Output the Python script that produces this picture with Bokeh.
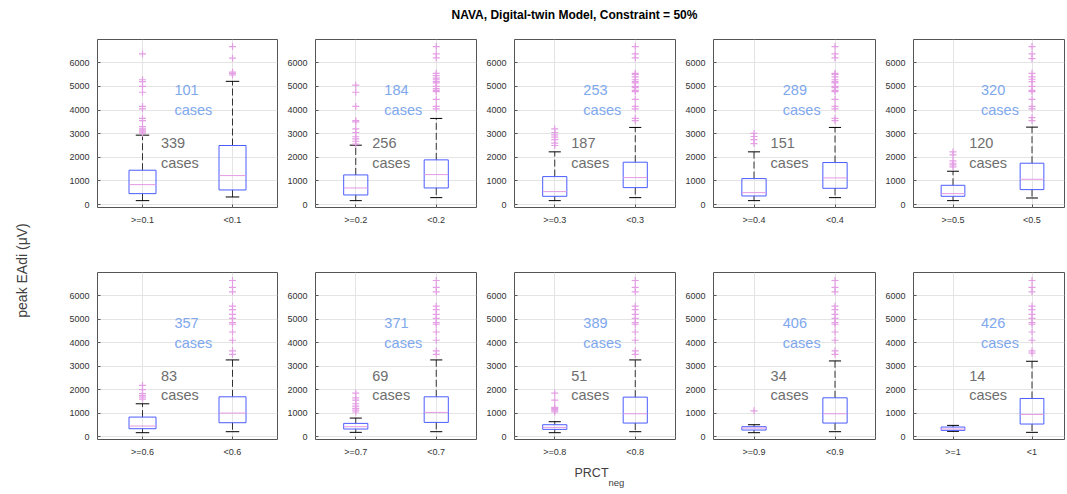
import math
from bokeh.plotting import figure
from bokeh.layouts import row, column
from bokeh.models import Range1d, FixedTicker
from bokeh.core.properties import value
from bokeh.embed import file_html
from bokeh.resources import INLINE

# ---------------- data ----------------
thresholds = ["0.1", "0.2", "0.3", "0.4", "0.5", "0.6", "0.7", "0.8", "0.9", "1"]
n_ge = [339, 256, 187, 151, 120, 83, 69, 51, 34, 14]
n_lt = [101, 184, 253, 289, 320, 357, 371, 389, 406, 426]

# [lower whisker, Q1, median, Q3, upper whisker]
ge_stats = [
    [170, 466, 847, 1455, 2938],
    [170, 410, 706, 1257, 2514],
    [170, 353, 551, 1186, 2232],
    [170, 367, 508, 1102, 2232],
    [170, 353, 466, 819, 1412],
    [169, 339, 452, 833, 1398],
    [184, 325, 424, 565, 791],
    [169, 311, 395, 508, 636],
    [169, 282, 367, 424, 508],
    [226, 268, 325, 410, 480],
]
lt_stats = [
    [325, 621, 1229, 2500, 5212],
    [297, 706, 1271, 1893, 3644],
    [297, 720, 1144, 1794, 3263],
    [297, 692, 1130, 1780, 3263],
    [282, 636, 1073, 1751, 3277],
    [212, 593, 1003, 1695, 3263],
    [212, 607, 1031, 1695, 3263],
    [212, 579, 975, 1681, 3263],
    [212, 579, 975, 1653, 3220],
    [184, 537, 946, 1624, 3206],
]
ge_outliers = [
    [3020, 3080, 3150, 3200, 3300, 3550, 3650, 4050, 4150, 4750, 5000, 5200, 5280, 6370],
    [2560, 2680, 2780, 2870, 3050, 3200, 3500, 3550, 4150, 4750, 5050],
    [2500, 2600, 2750, 2850, 2950, 3050, 3200],
    [2580, 2750, 2880, 3010],
    [1600, 1680, 1750, 1850, 2100, 2230],
    [1600, 1680, 1750, 1830, 2000, 2180],
    [1050, 1130, 1200, 1300, 1400, 1550, 1650, 1850],
    [1050, 1100, 1150, 1200, 1250, 1550, 1850],
    [1100],
    [],
]
lt_outliers = [
    [5480, 5540, 5600, 6190, 6680],
    [4050, 4150, 4450, 4780, 4830, 4900, 5000, 5150, 5200, 5280, 5350, 5450, 5550, 6200, 6370, 6680],
    [3550, 3650, 4050, 4150, 4450, 4780, 4830, 4950, 5000, 5150, 5200, 5280, 5400, 5500, 5550, 6200, 6370, 6680],
    [3550, 3650, 4050, 4150, 4450, 4780, 4830, 4950, 5000, 5150, 5200, 5280, 5400, 5500, 5550, 6200, 6370, 6680],
    [3550, 3680, 4050, 4150, 4450, 4780, 4830, 5000, 5200, 5300, 5400, 5550, 6170, 6370, 6680],
    [3500, 3650, 4100, 4450, 4780, 4850, 5030, 5200, 5400, 5550, 6160, 6350, 6640],
    [3500, 3650, 4100, 4450, 4780, 4850, 5030, 5200, 5400, 5550, 6160, 6350, 6640],
    [3500, 3650, 4100, 4450, 4780, 4850, 5030, 5200, 5400, 5550, 6160, 6350, 6640],
    [3500, 3650, 4100, 4450, 4780, 4850, 5030, 5200, 5400, 5550, 6160, 6350, 6640],
    [3550, 3650, 4100, 4450, 4780, 4850, 5030, 5200, 5400, 5550, 6160, 6350, 6640],
]
y_ticks = [0, 1000, 2000, 3000, 4000, 5000, 6000]

# ---------------- style ----------------
FONT = "Liberation Sans"
BOX_C = "#4a5cff"
MED_C = "#e39be3"
OUT_C = "#e49ee4"
WHISK_C = "#333333"
FRAME_C = "#555555"
GRID_C = "#e4e4e4"
TICK_C = "#333333"
BLUE_T = "#80a8ee"
GRAY_T = "#6e6e6e"

# columns: (min_border_left, frame_width, min_border_right, x_end)
cols = [
    (57, 180, 2, 2.5),
    (36, 161, 2, 2.5),
    (36, 161, 2, 2.5),
    (36, 162, 2, 2.5),
    (36, 151, 1, 0.5 + 151 / 79.0),
]
rows_cfg = [(9, 168, 55), (10, 167, 22)]


def make_panel(i):
    r, c = divmod(i, 5)
    bl, fw, br, xend = cols[c]
    bt, fh, bb = rows_cfg[r]
    p = figure(frame_width=fw, frame_height=fh, min_border_left=bl,
               min_border_right=br, min_border_top=bt, min_border_bottom=bb,
               x_range=Range1d(0.5, xend), y_range=Range1d(-120, 6980),
               output_backend="svg", toolbar_location=None, title=None)
    p.outline_line_color = FRAME_C
    p.outline_line_width = 1
    p.background_fill_color = "white"
    p.border_fill_color = "white"
    p.xaxis.ticker = FixedTicker(ticks=[1, 2])
    p.xaxis.major_label_overrides = {1: ">=" + thresholds[i], 2: "<" + thresholds[i]}
    p.yaxis.ticker = FixedTicker(ticks=y_ticks)
    p.xgrid.ticker = FixedTicker(ticks=[1, 2])
    p.ygrid.ticker = FixedTicker(ticks=y_ticks)
    for g in (p.xgrid, p.ygrid):
        g.grid_line_color = GRID_C
        g.grid_line_width = 1
    for ax in (p.xaxis, p.yaxis):
        ax.axis_line_color = None
        ax.major_tick_in = 3
        ax.major_tick_out = 0
        ax.major_tick_line_color = FRAME_C
        ax.minor_tick_line_color = None
        ax.major_label_text_font = FONT
        ax.major_label_text_font_size = "9px"
        ax.major_label_text_color = TICK_C
    p.xaxis.major_label_standoff = 7
    p.yaxis.major_label_standoff = 8

    for xpos, st, outs in ((1, ge_stats[i], ge_outliers[i]), (2, lt_stats[i], lt_outliers[i])):
        lo, q1, med, q3, hi = st
        # whiskers
        p.segment(x0=[xpos, xpos], y0=[q3, q1], x1=[xpos, xpos], y1=[hi, lo],
                  line_color=WHISK_C, line_width=1, line_dash="7 3")
        # caps
        p.segment(x0=[xpos - 0.075, xpos - 0.075], y0=[hi, lo],
                  x1=[xpos + 0.075, xpos + 0.075], y1=[hi, lo],
                  line_color="black", line_width=1)
        # box
        p.quad(left=[xpos - 0.15], right=[xpos + 0.15], bottom=[q1], top=[q3],
               fill_color=None, line_color=BOX_C, line_width=1)
        # median
        p.segment(x0=[xpos - 0.15], y0=[med], x1=[xpos + 0.15], y1=[med],
                  line_color=MED_C, line_width=1)
        if outs:
            p.scatter(x=[xpos] * len(outs), y=outs, marker="cross", size=7,
                      line_color=OUT_C, line_width=1.2)

    # case counts
    p.text(x=[1.355, 1.355], y=[4830, 3995], text=[str(n_lt[i]), "cases"],
           text_color=BLUE_T, text_font=value(FONT), text_font_size="14.5px",
           text_align="left", text_baseline="middle")
    p.text(x=[1.205, 1.205], y=[2600, 1765], text=[str(n_ge[i]), "cases"],
           text_color=GRAY_T, text_font=value(FONT), text_font_size="14.5px",
           text_align="left", text_baseline="middle")
    return p


panels = [make_panel(i) for i in range(10)]

W = 1067
row1_h = rows_cfg[0][0] + rows_cfg[0][1] + rows_cfg[0][2]
row2_h = rows_cfg[1][0] + rows_cfg[1][1] + rows_cfg[1][2]
title_h = 30
xl_h = 494 - title_h - row1_h - row2_h


def blank(w, h):
    f = figure(width=w, height=h, x_range=Range1d(0, w), y_range=Range1d(0, h),
               output_backend="svg", toolbar_location=None, min_border=0, title=None)
    f.axis.visible = False
    f.grid.visible = False
    f.outline_line_color = None
    f.background_fill_color = "white"
    f.border_fill_color = "white"
    return f


title_fig = blank(W, title_h)
title_fig.text(x=[574], y=[16], text=["NAVA, Digital-twin Model, Constraint = 50%"],
               text_font=value(FONT), text_font_size="12px", text_font_style="bold",
               text_color="black", text_align="center", text_baseline="middle")

yl_w = 40
yl_fig = blank(yl_w, row1_h + row2_h)
yl_fig.text(x=[21], y=[row1_h + row2_h - 240], text=["peak EAdi (\u03bcV)"], angle=math.pi / 2,
            text_font=value(FONT), text_font_size="14px", text_color="#404040",
            text_align="center", text_baseline="middle")

xl_fig = blank(W, xl_h)
xl_fig.text(x=[574], y=[xl_h - 11], text=["PRCT"], text_font=value(FONT),
            text_font_size="12.5px", text_color="#404040", text_align="left",
            text_baseline="middle")
xl_fig.text(x=[608], y=[xl_h - 21], text=["neg"], text_font=value(FONT),
            text_font_size="9.5px", text_color="#404040", text_align="left",
            text_baseline="middle")

grid_part = column(row(*panels[:5]), row(*panels[5:]))
layout = column(title_fig, row(yl_fig, grid_part), xl_fig)

open("out.html", "w").write(file_html(layout, INLINE))
